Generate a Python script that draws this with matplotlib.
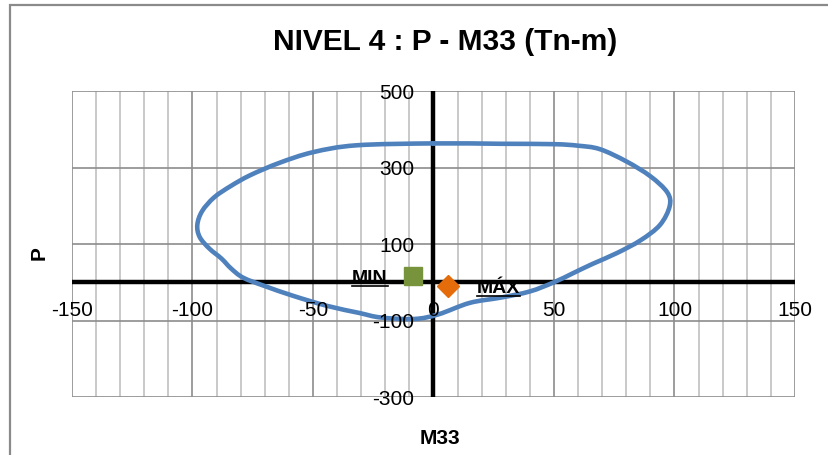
import numpy as np
import matplotlib
matplotlib.use("Agg")
import matplotlib.pyplot as plt
from matplotlib.path import Path
from matplotlib.patches import PathPatch, Rectangle
from matplotlib.lines import Line2D

plt.rcParams['font.family'] = ['Liberation Sans', 'DejaVu Sans']

# Interaction diagram P - M33 (closed contour, clockwise from the top)
m33 = [0, 28, 50, 60, 69, 80, 90, 97, 98, 94, 86, 76, 66, 58, 50, 40, 28, 15, 2,
       -8, -22, -31, -44, -58, -70, -79, -84, -88, -93, -97, -98, -96, -91, -84, -76,
       -64, -50, -32]
p = [363, 362, 361, 357, 348, 316, 277, 235, 199, 150, 110, 76, 48, 24, 0, -24, -40, -54, -84,
     -96, -92, -80, -62, -36, -10, 12, 36, 62, 88, 118, 150, 186, 222, 252, 280,
     312, 340, 358]

# Demand points
min_point = (-8.7, 17)
max_point = (6.0, -10.5)

x_ticks = [-150, -100, -50, 0, 50, 100, 150]
y_ticks = [-300, -100, 100, 300, 500]
x_minor = list(range(-150, 151, 10))

W, H = 829, 456
fig = plt.figure(figsize=(W / 100, H / 100), dpi=100)
ax = fig.add_axes([72 / W, (H - 398) / H, (795 - 72) / W, (398 - 92) / H])
ax.set_xlim(-150, 150)
ax.set_ylim(-300, 500)

# grid
for xv in x_minor:
    if xv % 50:
        ax.axvline(xv, color='#c0c0c0', lw=1.2, zorder=1)
for xv in x_ticks:
    ax.axvline(xv, color='#8c8c8c', lw=1.2, zorder=1)
for yv in y_ticks:
    ax.axhline(yv, color='#8c8c8c', lw=1.2, zorder=1)
for s in ax.spines.values():
    s.set_visible(False)
ax.set_xticks([])
ax.set_yticks([])

# axes through the origin
ax.axhline(0, color='black', lw=3.2, zorder=2)
ax.axvline(0, color='black', lw=3.2, zorder=2)

# tick labels next to the axes
for xv in x_ticks:
    ax.annotate(str(xv), xy=(xv, 0), xytext=(0, -33), textcoords='offset pixels',
                ha='center', va='baseline', fontsize=15, zorder=5)
for yv in y_ticks:
    ax.annotate(str(yv), xy=(0, yv), xytext=(-19, -7), textcoords='offset pixels',
                ha='right', va='baseline', fontsize=15, zorder=5)

# smooth closed contour (Catmull-Rom -> cubic Bezier)
pts = np.column_stack([m33, p]).astype(float)
n = len(pts)
verts = [pts[0]]
codes = [Path.MOVETO]
for i in range(n):
    p0 = pts[(i - 1) % n]
    p1 = pts[i]
    p2 = pts[(i + 1) % n]
    p3 = pts[(i + 2) % n]
    c1 = p1 + (p2 - p0) / 6.0
    c2 = p2 - (p3 - p1) / 6.0
    verts += [c1, c2, p2]
    codes += [Path.CURVE4] * 3
curve = PathPatch(Path(verts, codes), facecolor='none', edgecolor='#4F81BD',
                  lw=3.3, zorder=3, capstyle='round', joinstyle='round')
ax.add_patch(curve)

# demand points with labels
ax.plot([min_point[0]], [min_point[1]], marker='s', ms=13.5, color='#77933C',
        mec='#77933C', ls='none', zorder=4)
ax.plot([max_point[0]], [max_point[1]], marker='D', ms=11.5, color='#E46C0A',
        mec='#E46C0A', ls='none', zorder=4)
t_min = ax.annotate('MIN', xy=min_point, xytext=(-25, -6.5), textcoords='offset pixels',
                    ha='right', va='baseline', fontsize=14, fontweight='bold', zorder=5)
t_max = ax.annotate('MÁX', xy=max_point, xytext=(29, -6), textcoords='offset pixels',
                    ha='left', va='baseline', fontsize=14, fontweight='bold', zorder=5)

# titles
fig.text(445 / W, 1 - 42 / H, 'NIVEL 4 : P - M33 (Tn-m)', ha='center', va='center',
         fontsize=21.5, fontweight='bold')
fig.text(440 / W, 1 - 439 / H, 'M33', ha='center', va='center',
         fontsize=15, fontweight='bold')
fig.text(39 / W, 1 - 253 / H, 'P', ha='center', va='center', rotation=90,
         fontsize=15, fontweight='bold')

# chart frame
fig.patches.append(Rectangle((10 / W, -0.1), 1.1, 1.1 - 6 / H, transform=fig.transFigure,
                             fill=False, edgecolor='#8a8a8a', lw=1.6))

# underline the point labels
fig.canvas.draw()
renderer = fig.canvas.get_renderer()
for t in (t_min, t_max):
    bb = t.get_window_extent(renderer)
    x0, x1 = bb.x0, bb.x1
    xy = ax.transData.transform(t.xy)
    off = t.xyann
    base = xy[1] + off[1] - 4
    fig.lines.append(Line2D([x0 / W, x1 / W], [base / H, base / H], transform=fig.transFigure,
                            color='black', lw=1.2, zorder=6))

fig.savefig('out.png', dpi=100)
